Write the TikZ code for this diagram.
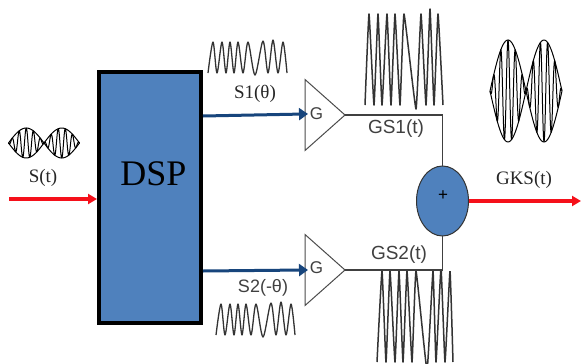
\documentclass[tikz,border=0pt]{standalone}
\usepackage{fontspec}
\setmainfont{Liberation Serif}
\newfontfamily\sansf{Liberation Sans}
\usetikzlibrary{shapes.geometric,arrows.meta}
\definecolor{boxblue}{HTML}{4F81BD}
\definecolor{navy}{HTML}{17457C}
\definecolor{sigred}{HTML}{F5101A}
\tikzset{
  dspbox/.style={draw=black,line width=4pt,fill=boxblue,minimum width=102pt,minimum height=251pt,inner sep=0pt},
  amp/.style={draw=black!70,line width=1pt,fill=white,isosceles triangle,isosceles triangle stretches,shape border rotate=0,minimum height=40pt,minimum width=71pt,inner sep=0pt,outer sep=0pt,anchor=apex},
  sumnode/.style={draw=black!80,line width=1pt,fill=boxblue,ellipse,minimum width=52pt,minimum height=70pt,inner sep=0pt,outer sep=0pt},
  serlab/.style={font=\fontsize{19}{19}\selectfont,inner sep=0pt,text=black!85},
  sanlab/.style={font=\sansf\fontsize{19}{19}\selectfont,inner sep=0pt,text=black!75},
  redarrow/.style={draw=sigred,line width=3.2pt,-{Triangle[length=9pt,width=10pt]}},
  bluearrow/.style={draw=navy,line width=3pt,shorten >=-3pt,-{Triangle[length=9pt,width=12pt]}},
  wire/.style={draw=black!75,line width=1.1pt},
  wave/.style={draw=black!80,line width=1.3pt,line join=round},
  envw/.style={draw=black,line width=1pt,line join=round}
}
\newcommand{\smallwave}{plot[smooth,tension=.5] coordinates {(208,73)(213,42)(217,73)(222,42)(226,73)(230,42)(234,73)(238,42)(243,73)(248,42)(255,75)(263,41)(268,73)(273,40)(278,73)(283,42)(287,73)}}
\newcommand{\envwave}[6]{% x0, cy, lobe, amp, cycles per lobe, style
  \draw[#6] plot[domain=0:2,samples=300,variable=\t] ({#1+#3*\t},{#2+#4*sin(180*\t)*cos(360*#5*\t)});
  \draw[#6] plot[domain=0:2,samples=60,variable=\t] ({#1+#3*\t},{#2+#4*sin(180*\t)});
  \draw[#6] plot[domain=0:2,samples=60,variable=\t] ({#1+#3*\t},{#2-#4*sin(180*\t)});
}
\begin{document}
\begin{tikzpicture}[x=1pt,y=-1pt]
\useasboundingbox (0,0) rectangle (581,364);
\fill[white] (0,0) rectangle (581,364);
% waveforms
\draw[wave] \smallwave;
\begin{scope}[shift={(8,262)}]\draw[wave] \smallwave;\end{scope}
\draw[wave,line width=1.5pt] plot[tension=.2,smooth] coordinates {(365,105)(369,14)(374,105)(378,14)(382,105)(387,14)(391,105)(395,14)(400,105)(404,14)(416,109)(421,14)(426,105)(430,9)(434,105)(438,14)(443,105)};
\begin{scope}
\clip (360,271) rectangle (460,364);
\draw[wave,line width=1.5pt] plot[tension=.2,smooth] coordinates {(377,362)(382,271)(386,362)(390,271)(395,362)(399,271)(403,362)(407,271)(412,362)(416,271)(427,370)(433,271)(436,362)(441,268)(445,362)(450,271)(453,362)};
\end{scope}
\envwave{8.5}{143}{35.5}{15}{5}{envw}
\envwave{490}{91}{36}{51}{5}{envw}
% blocks
\node[dspbox] (dsp) at (150,197.5) {};
\node[inner sep=0pt,font=\fontsize{36}{36}\selectfont] (dsplabel) at (153.5,174) {DSP};
\node[amp] (g1) at (345,115) {};
\node[amp] (g2) at (345,270) {};
\node[sumnode] (sum) at (442.5,201) {};
\node[inner sep=0pt,font=\sansf\fontsize{17}{17}\selectfont] (plus) at (443,196) {+};
\coordinate (in) at (9,199);
\coordinate (out) at (581,201);
\coordinate (c1) at (g1.apex -| sum.north);
\coordinate (c2) at (g2.apex -| sum.south);
% connectors
\draw[redarrow] (in) -- (in -| dsp.west);
\draw[redarrow] (sum.east) -- (out);
\draw[bluearrow] (dsp.east |- 0,116) -- (g1.lower side |- 0,114);
\draw[bluearrow] (dsp.east |- 0,271) -- (g2.lower side |- 0,270);
\draw[wire] (g1.apex) -- (c1) -- (sum.north);
\draw[wire] (g2.apex) -- (c2) -- (sum.south);
% labels
\node[sanlab,font=\sansf\fontsize{17}{17}\selectfont] (ga) at (316.5,114) {G};
\node[sanlab,font=\sansf\fontsize{17}{17}\selectfont] (gb) at (316.5,268) {G};
\node[serlab] (ls) at (43,178) {S(t)};
\node[serlab] (ls1) at (255,94) {S1(θ)};
\node[sanlab,font=\sansf\fontsize{18}{18}\selectfont] (ls2) at (263,288) {S2(-θ)};
\node[sanlab] (lg1) at (396,129) {GS1(t)};
\node[sanlab] (lg2) at (399,255) {GS2(t)};
\node[serlab] (lk) at (524,180) {GKS(t)};
\end{tikzpicture}
\end{document}
